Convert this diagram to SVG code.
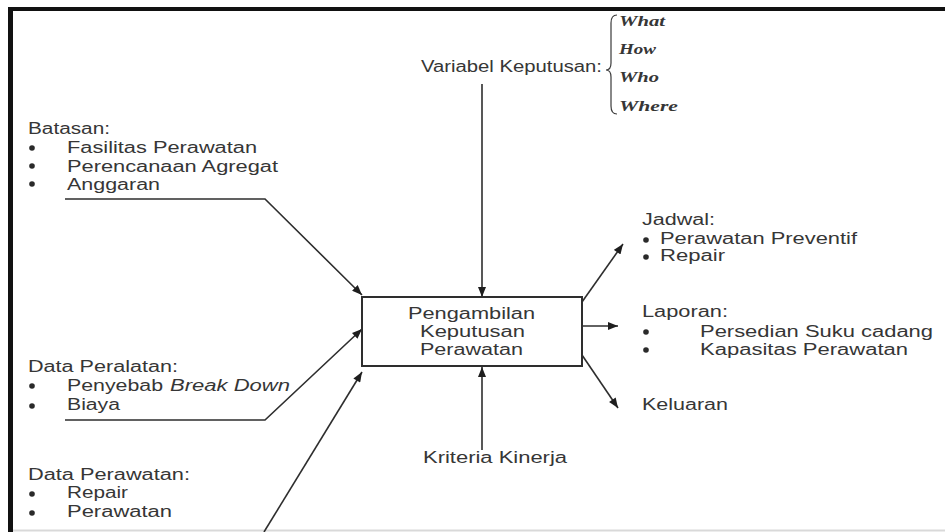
<svg xmlns="http://www.w3.org/2000/svg" width="945" height="532" viewBox="0 0 945 532">
<style>
.t{font-family:"Liberation Sans",Arial,sans-serif;font-size:16px;fill:#363636}
.i{font-style:italic}
.v{font-family:"Liberation Serif","Times New Roman",serif;font-size:14px;font-style:italic;font-weight:bold;fill:#363636}
.c{fill:none;stroke:#2e2e2e;stroke-width:1.6}
.b{fill:#2a2a2a}
</style>
<defs>
<marker id="ah" viewBox="0 0 10 8" refX="10" refY="4" markerWidth="11" markerHeight="8" markerUnits="userSpaceOnUse" orient="auto">
<path d="M0,0 L10,4 L0,8 z" fill="#1e1e1e"/>
</marker>
</defs>
<rect x="0" y="0" width="945" height="532" fill="#ffffff"/>
<g id="frame">
<rect x="8" y="7" width="937" height="4" fill="#111"/>
<rect x="8" y="7" width="5" height="525" fill="#111"/>
<line x1="13" y1="530.5" x2="945" y2="530.5" stroke="#d9d9d9" stroke-width="2"/>
</g>
<g id="connectors">
<path class="c" d="M482,84 L482,297" marker-end="url(#ah)"/>
<path class="c" d="M482,450 L482,367" marker-end="url(#ah)"/>
<path class="c" d="M65,199 L265,199 L362,295" marker-end="url(#ah)"/>
<path class="c" d="M65,420 L265,420 L362,329" marker-end="url(#ah)"/>
<path class="c" d="M264,532 L362,372" marker-end="url(#ah)"/>
<path class="c" d="M582,302 L623,244" marker-end="url(#ah)"/>
<path class="c" d="M582,326 L618,326" marker-end="url(#ah)"/>
<path class="c" d="M582,355 L618,408" marker-end="url(#ah)"/>
</g>
<g id="box">
<rect x="362" y="297" width="220" height="69" fill="#fff" stroke="#2e2e2e" stroke-width="2"/>
<text class="t" x="408" y="319" textLength="127" lengthAdjust="spacingAndGlyphs">Pengambilan</text>
<text class="t" x="420" y="337" textLength="105" lengthAdjust="spacingAndGlyphs">Keputusan</text>
<text class="t" x="420" y="355" textLength="103" lengthAdjust="spacingAndGlyphs">Perawatan</text>
</g>
<g id="variabel">
<text class="t" x="421" y="72" textLength="181" lengthAdjust="spacingAndGlyphs">Variabel Keputusan:</text>
<path d="M617,15 Q611,15 611,23 L611,63 Q611,70 606,70 Q611,70 611,77 L611,106 Q611,114 617,114" fill="none" stroke="#3a3a3a" stroke-width="1.2"/>
<text class="v" x="619" y="26" textLength="46" lengthAdjust="spacingAndGlyphs">What</text>
<text class="v" x="619" y="54" textLength="37" lengthAdjust="spacingAndGlyphs">How</text>
<text class="v" x="619" y="82" textLength="40" lengthAdjust="spacingAndGlyphs">Who</text>
<text class="v" x="619" y="111" textLength="59" lengthAdjust="spacingAndGlyphs">Where</text>
</g>
<g id="batasan">
<text class="t" x="28" y="134" textLength="82" lengthAdjust="spacingAndGlyphs">Batasan:</text>
<circle class="b" cx="32" cy="148" r="2.8"/>
<circle class="b" cx="32" cy="166" r="2.8"/>
<circle class="b" cx="32" cy="184" r="2.8"/>
<text class="t" x="67" y="153" textLength="190" lengthAdjust="spacingAndGlyphs">Fasilitas Perawatan</text>
<text class="t" x="67" y="172" textLength="211" lengthAdjust="spacingAndGlyphs">Perencanaan Agregat</text>
<text class="t" x="67" y="190" textLength="93" lengthAdjust="spacingAndGlyphs">Anggaran</text>
</g>
<g id="data-peralatan">
<text class="t" x="28" y="372" textLength="150" lengthAdjust="spacingAndGlyphs">Data Peralatan:</text>
<circle class="b" cx="32" cy="386" r="2.8"/>
<circle class="b" cx="32" cy="406" r="2.8"/>
<text class="t" x="67" y="391" textLength="96" lengthAdjust="spacingAndGlyphs">Penyebab</text>
<text class="t i" x="170" y="391" textLength="120" lengthAdjust="spacingAndGlyphs">Break Down</text>
<text class="t" x="67" y="410" textLength="53" lengthAdjust="spacingAndGlyphs">Biaya</text>
</g>
<g id="data-perawatan">
<text class="t" x="28" y="480" textLength="162" lengthAdjust="spacingAndGlyphs">Data Perawatan:</text>
<circle class="b" cx="32" cy="494" r="2.8"/>
<circle class="b" cx="32" cy="513" r="2.8"/>
<text class="t" x="67" y="498" textLength="61" lengthAdjust="spacingAndGlyphs">Repair</text>
<text class="t" x="67" y="517" textLength="105" lengthAdjust="spacingAndGlyphs">Perawatan</text>
</g>
<g id="kriteria">
<text class="t" x="423" y="463" textLength="144" lengthAdjust="spacingAndGlyphs">Kriteria Kinerja</text>
</g>
<g id="jadwal">
<text class="t" x="642" y="225" textLength="73" lengthAdjust="spacingAndGlyphs">Jadwal:</text>
<circle class="b" cx="646" cy="240" r="2.8"/>
<circle class="b" cx="646" cy="257" r="2.8"/>
<text class="t" x="660" y="244" textLength="197" lengthAdjust="spacingAndGlyphs">Perawatan Preventif</text>
<text class="t" x="660" y="261" textLength="65" lengthAdjust="spacingAndGlyphs">Repair</text>
</g>
<g id="laporan">
<text class="t" x="642" y="317" textLength="86" lengthAdjust="spacingAndGlyphs">Laporan:</text>
<circle class="b" cx="646" cy="332" r="2.8"/>
<circle class="b" cx="646" cy="350" r="2.8"/>
<text class="t" x="700" y="337" textLength="233" lengthAdjust="spacingAndGlyphs">Persedian Suku cadang</text>
<text class="t" x="700" y="355" textLength="208" lengthAdjust="spacingAndGlyphs">Kapasitas Perawatan</text>
</g>
<g id="keluaran">
<text class="t" x="642" y="410" textLength="86" lengthAdjust="spacingAndGlyphs">Keluaran</text>
</g>
</svg>
